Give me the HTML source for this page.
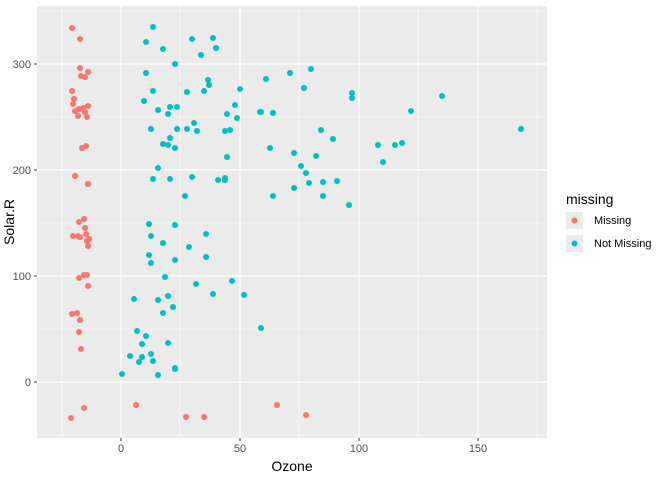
<!DOCTYPE html><html><head><style>body{margin:0;background:#fff}text{font-family:"Liberation Sans",sans-serif}</style></head><body>
<svg width="672" height="480" xmlns="http://www.w3.org/2000/svg">
<rect x="37" y="6" width="510" height="432" fill="#ebebeb"/>
<g stroke="#fff" stroke-width="0.6"><line x1="62" x2="62" y1="6" y2="438"/><line x1="180" x2="180" y1="6" y2="438"/><line x1="299" x2="299" y1="6" y2="438"/><line x1="418" x2="418" y1="6" y2="438"/><line x1="537" x2="537" y1="6" y2="438"/>
<line x1="37" x2="547" y1="435" y2="435"/><line x1="37" x2="547" y1="329" y2="329"/><line x1="37" x2="547" y1="223" y2="223"/><line x1="37" x2="547" y1="117" y2="117"/><line x1="37" x2="547" y1="11" y2="11"/></g>
<g stroke="#fff" stroke-width="1.2"><line x1="121" x2="121" y1="6" y2="438"/><line x1="240" x2="240" y1="6" y2="438"/><line x1="359" x2="359" y1="6" y2="438"/><line x1="478" x2="478" y1="6" y2="438"/>
<line x1="37" x2="547" y1="382" y2="382"/><line x1="37" x2="547" y1="276" y2="276"/><line x1="37" x2="547" y1="170" y2="170"/><line x1="37" x2="547" y1="64" y2="64"/></g>
<g stroke="#333" stroke-width="1"><line x1="34" x2="37" y1="382" y2="382"/><line x1="34" x2="37" y1="276" y2="276"/><line x1="34" x2="37" y1="170" y2="170"/><line x1="34" x2="37" y1="64" y2="64"/>
<line x1="121" x2="121" y1="438" y2="441"/><line x1="240" x2="240" y1="438" y2="441"/><line x1="359" x2="359" y1="438" y2="441"/><line x1="478" x2="478" y1="438" y2="441"/></g>
<g font-size="11" fill="#4d4d4d" text-anchor="end"><text x="31" y="386">0</text><text x="31" y="280">100</text><text x="31" y="174">200</text><text x="31" y="68">300</text></g>
<g font-size="11" fill="#4d4d4d" text-anchor="middle"><text x="121" y="452">0</text><text x="240" y="452">50</text><text x="359" y="452">100</text><text x="478" y="452">150</text></g>
<text x="292" y="471" font-size="14" text-anchor="middle">Ozone</text>
<text transform="translate(14,222) rotate(-90)" font-size="14" text-anchor="middle">Solar.R</text>
<g fill="#f8766d" id="r"></g><g fill="#00bfc4" id="t"></g>
<text x="566" y="204" font-size="14">missing</text>
<rect x="566" y="212" width="17" height="17" fill="#ebebeb"/><circle cx="574.5" cy="220.5" r="3" fill="#f8766d"/>
<rect x="566" y="235" width="17" height="17" fill="#ebebeb"/><circle cx="574.5" cy="243.5" r="3" fill="#00bfc4"/>
<g font-size="11"><text x="594" y="224">Missing</text><text x="594" y="247">Not Missing</text></g>
</svg>
<script>
var R=[[72,28],[80,39],[80,68],[81,76],[85,77],[88,72],[72,91],[74,99],[73,104],[75,111],[79,109],[83,108],[85,112],[78,116],[88,106],[87,117],[82,148],[86,146],[75,176],[88,184],[79,222],[84,219],[80,237],[86,234],[73,236],[85,228],[87,241],[78,236],[89,239],[88,246],[79,278],[84,275],[87,275],[88,286],[72,314],[77,313],[80,320],[79,332],[81,349],[71,418],[84,408],[136,405],[186,417],[204,417],[277,405],[306,415]];
var T=[[153,27],[146,42],[163,49],[192,39],[213,38],[216,48],[201,55],[175,64],[146,73],[208,80],[209,85],[153,91],[187,92],[204,91],[240,89],[144,101],[158,110],[170,107],[177,107],[168,114],[235,105],[227,114],[237,118],[260,112],[151,129],[177,129],[187,129],[194,123],[197,131],[225,131],[230,130],[170,138],[163,144],[168,145],[175,148],[227,157],[158,168],[153,179],[170,179],[192,177],[218,180],[225,178],[225,180],[185,196],
[266,79],[290,73],[311,69],[304,88],[352,93],[352,98],[442,96],[261,112],[273,113],[411,111],[321,130],[333,139],[521,129],[270,148],[294,153],[316,156],[378,145],[395,145],[402,143],[383,162],[301,166],[306,173],[309,183],[323,182],[337,181],[294,188],[273,196],[323,196],[349,205],
[149,224],[175,225],[151,236],[163,243],[206,234],[189,247],[149,255],[151,263],[175,260],[206,257],[165,277],[196,284],[232,281],[213,294],[244,295],[134,299],[158,300],[168,296],[173,307],[163,313],[261,328],[137,331],[146,336],[142,344],[168,343],[130,356],[142,357],[151,354],[139,362],[153,361],[122,374],[158,375],[175,368],[175,369]];
function d(a,id){var g=document.getElementById(id),s='';a.forEach(function(p){s+='<circle cx="'+p[0]+'" cy="'+p[1]+'" r="3"/>'});g.innerHTML=s}
d(R,'r');d(T,'t');
</script>
</body></html>
